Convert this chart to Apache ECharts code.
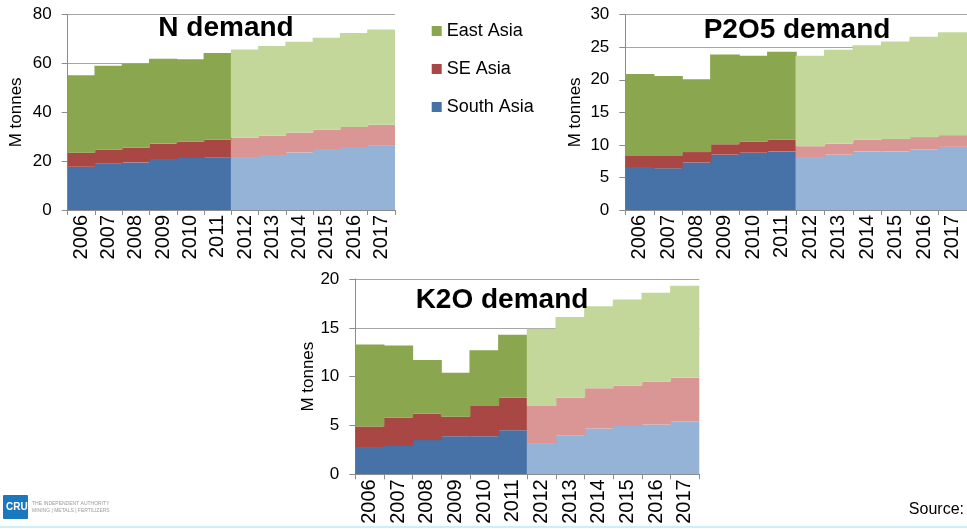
<!DOCTYPE html>
<html><head><meta charset="utf-8">
<script src="https://cdn.jsdelivr.net/npm/echarts@6/dist/echarts.min.js"></script>
<style>html,body{margin:0;padding:0;background:#fff}#c{width:967px;height:529px}</style>
</head><body><div id="c"></div>
<script>
// ---- data ----
const years = ['2006','2007','2008','2009','2010','2011','2012','2013','2014','2015','2016','2017'];
const forecastFrom = '2012';
const legendNames = ['East Asia','SE Asia','South Asia'];
const chartTitles = ['N demand','P2O5 demand','K2O demand'];
const yAxisName = 'M tonnes';

const nSouth = [17.7,19.0,19.5,20.5,21.3,21.6,21.7,22.5,23.6,24.6,25.8,26.3];
const nSE    = [5.8,5.7,6.0,6.7,6.7,7.2,7.9,7.9,8.1,8.3,8.2,8.6];
const nEast  = [31.7,34.4,34.4,34.8,33.8,35.5,36.1,36.8,37.2,37.7,38.5,39.0];

const pSouth = [6.6,6.4,7.3,8.5,8.8,9.0,8.0,8.5,9.0,9.0,9.3,9.7];
const pSE    = [1.7,1.9,1.6,1.6,1.7,1.8,1.8,1.7,1.8,1.9,1.9,1.8];
const pEast  = [12.6,12.3,11.2,13.8,13.2,13.5,13.9,14.4,14.5,15.0,15.4,15.8];

const kSouth = [2.7,2.9,3.5,3.9,3.9,4.5,3.2,4.0,4.7,4.95,5.1,5.4];
const kSE    = [2.2,2.9,2.7,2.0,3.1,3.35,3.8,3.85,4.1,4.15,4.4,4.5];
const kEast  = [8.4,7.4,5.5,4.5,5.7,6.45,7.9,8.25,8.4,8.8,9.1,9.4];

const nTicks = [0,20,40,60,80];
const pTicks = [0,5,10,15,20,25,30];
const kTicks = [0,5,10,15,20];

// ---- styling ----
const FONT = 'Liberation Sans, Arial, sans-serif';
const histColor = {'South Asia':'#4672A7','SE Asia':'#A94745','East Asia':'#8AA64E'};
const fcColor   = {'South Asia':'#95B3D7','SE Asia':'#DA9694','East Asia':'#C4D79B'};
const axisGray = '#8C8C8C';

const charts = [
  {ticks:nTicks, data:{'South Asia':nSouth,'SE Asia':nSE,'East Asia':nEast},
   grid:{left:67.7, top:14.7, width:327.3, height:195.3}, title:{x:226, y:28}, nameGap:43},
  {ticks:pTicks, data:{'South Asia':pSouth,'SE Asia':pSE,'East Asia':pEast},
   grid:{left:625.3, top:14.7, width:344, height:195.3}, title:{x:797, y:30}, nameGap:41},
  {ticks:kTicks, data:{'South Asia':kSouth,'SE Asia':kSE,'East Asia':kEast},
   grid:{left:355.3, top:279, width:344, height:195.3}, title:{x:502, y:300}, nameGap:37}
];
const fi = years.indexOf(forecastFrom);

const grids = [], xAxes = [], yAxes = [], series = [], titles = [];
charts.forEach((c, i) => {
  grids.push(Object.assign({containLabel:false}, c.grid));
  xAxes.push({
    type:'category', gridIndex:i, data:years, boundaryGap:true,
    axisLine:{show:true, lineStyle:{color:axisGray, width:1}},
    axisTick:{show:true, length:5, lineStyle:{color:axisGray}},
    axisLabel:{rotate:90, margin:5, fontSize:20, color:'#000', fontFamily:FONT, interval:0},
    splitLine:{show:false}, z:5
  });
  const t = c.ticks;
  yAxes.push({
    type:'value', gridIndex:i, min:t[0], max:t[t.length-1], interval:t[1]-t[0],
    name:yAxisName, nameLocation:'middle', nameRotate:90, nameGap:c.nameGap,
    nameTextStyle:{fontSize:17, color:'#000', fontFamily:FONT},
    axisLine:{show:true, lineStyle:{color:axisGray}},
    axisTick:{show:true, length:6, lineStyle:{color:axisGray}},
    axisLabel:{fontSize:17, color:'#000', fontFamily:FONT, margin:16},
    splitLine:{show:true, lineStyle:{color:'#A6A6A6', width:1}}
  });
  // bars slightly wider than a category so neighbouring steps overlap (no seams)
  const bw = c.grid.width / years.length + 1;
  ['South Asia','SE Asia','East Asia'].forEach(name => {
    series.push({
      type:'bar', name:name, stack:'s'+i, xAxisIndex:i, yAxisIndex:i,
      barWidth:bw, animation:false,
      itemStyle:{color:histColor[name]},
      emphasis:{disabled:true},
      data:c.data[name].map((v,k)=> k>=fi ? {value:v, itemStyle:{color:fcColor[name]}} : v)
    });
  });
  titles.push({
    text:chartTitles[i], left:c.title.x, top:c.title.y, textAlign:'center', textVerticalAlign:'middle', padding:0,
    textStyle:{fontSize:28, fontWeight:'bold', color:'#000', fontFamily:FONT}
  });
});

const chart = echarts.init(document.getElementById('c'), null, {renderer:'canvas'});
chart.setOption({
  backgroundColor:'#fff',
  animation:false,
  title:titles,
  legend:{
    data:legendNames, orient:'vertical', left:431.7, top:22, padding:0, itemWidth:10, itemHeight:10,
    itemGap:20, icon:'rect', selectedMode:false,
    textStyle:{fontSize:18, color:'#000', fontFamily:FONT}
  },
  grid:grids, xAxis:xAxes, yAxis:yAxes, series:series,
  graphic:[
    {type:'rect', left:0, top:526, shape:{width:967, height:2}, style:{fill:'#CDEFF7'}, silent:true},
    {type:'rect', left:3, top:495, shape:{width:25, height:24, r:1}, style:{fill:'#1B78BE'}, silent:true},
    {type:'text', left:6, top:502, style:{text:'CRU', fill:'#fff', font:'bold 10px '+FONT}, silent:true},
    {type:'text', left:32, top:501, style:{text:'THE INDEPENDENT AUTHORITY', fill:'#9A9A9A', font:'5px '+FONT}, silent:true},
    {type:'text', left:32, top:508, style:{text:'MINING | METALS | FERTILIZERS', fill:'#9A9A9A', font:'5px '+FONT}, silent:true},
    {type:'text', right:3, top:502, style:{text:'Source:', fill:'#000', font:'16px '+FONT}, silent:true}
  ]
});
</script></body></html>
